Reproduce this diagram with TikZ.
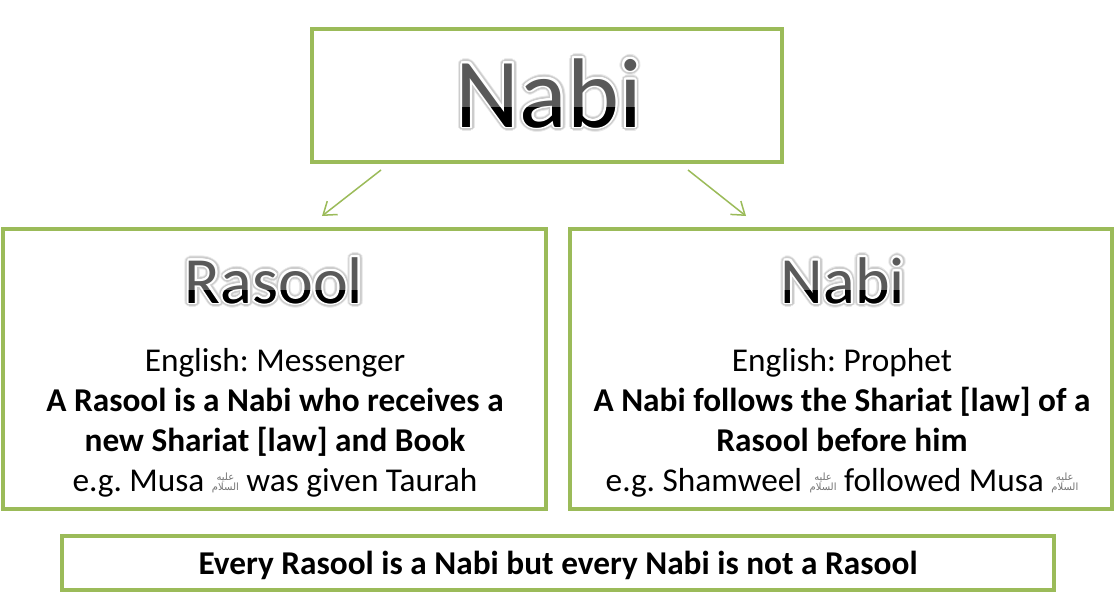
\documentclass[tikz,border=0pt]{standalone}
\usepackage{fontspec}
\setmainfont{Carlito}
\newfontfamily\arabicfont[Script=Arabic]{DejaVu Sans}
\TeXXeTstate=1
\frenchspacing
\usetikzlibrary{arrows.meta}
\definecolor{olivegreen}{RGB}{155,187,89}
\definecolor{topgray}{RGB}{89,89,89}
\newcommand\alayhi{\raisebox{1pt}{\textcolor{black!55}{\arabicfont\fontsize{10}{10}\selectfont\shortstack{\beginR عليه\endR\\[-2.5pt]\beginR السلام\endR}}}}
\newcommand\glossyword[6]{%
  \foreach \ang in {0,20,...,340}{\node[halotxt,font=\fontsize{#4}{#4}\selectfont] at ([shift={(\ang:4.6pt)}]#2,#3) {#6};}
  \foreach \ang in {0,20,...,340}{\node[glowtxt,font=\fontsize{#4}{#4}\selectfont] at ([shift={(\ang:3.4pt)}]#2,#3) {#6};}
  \foreach \ang in {0,20,...,340}{\node[rimtxt,font=\fontsize{#4}{#4}\selectfont] at ([shift={(\ang:2pt)}]#2,#3) {#6};}
  \node[titletxt,text=topgray,font=\fontsize{#4}{#4}\selectfont] (#1) at (#2,#3) {#6};
  \begin{scope}
    \clip (#2-200,#3-#5) rectangle (#2+200,#3+40);
    \node[titletxt,text=black,font=\fontsize{#4}{#4}\selectfont] (#1low) at (#2,#3) {#6};
  \end{scope}
}
\begin{document}
\begin{tikzpicture}[x=1pt,y=-1pt,
  box/.style={draw=olivegreen, line width=4pt, inner sep=0pt, outer sep=0pt, anchor=north west},
  link/.style={draw=olivegreen, line width=1.5pt, -{Straight Barb[length=12pt,width=17pt,line width=1.5pt]}},
  body/.style={anchor=base, inner sep=0pt, font=\fontsize{33.3}{40}\selectfont},
  bodyb/.style={anchor=base, inner sep=0pt, font=\fontsize{33.3}{40}\selectfont\bfseries},
  titletxt/.style={anchor=base, inner sep=0pt},
  halotxt/.style={anchor=base, inner sep=0pt, text=black!9},
  glowtxt/.style={anchor=base, inner sep=0pt, text=black!20},
  rimtxt/.style={anchor=base, inner sep=0pt, text=white},
]
\useasboundingbox (0,0) rectangle (1118,594);
\fill[white] (0,0) rectangle (1118,594);

% boxes
\node[box, minimum width=470pt, minimum height=133pt] (topbox) at (312,29) {};
\node[box, minimum width=543pt, minimum height=280pt] (leftbox) at (3,229) {};
\node[box, minimum width=542pt, minimum height=280pt] (rightbox) at (570,229) {};
\node[box, minimum width=992pt, minimum height=54pt] (bottombox) at (62,536) {};

% arrows
\coordinate (a1s) at (381,170);
\coordinate (a1e) at (322,216);
\coordinate (a2s) at (688,170);
\coordinate (a2e) at (746,216);
\draw[link] (a1s) -- (a1e);
\draw[link] (a2s) -- (a2e);

% titles
\glossyword{toptitle}{549}{127}{99}{20}{Nabi}
\glossyword{lefttitle}{274}{303}{66}{13}{Rasool}
\glossyword{righttitle}{843}{303}{66}{13}{Nabi}

% left text
\node[body]  (lenglish) at (275,371) {English: Messenger};
\node[bodyb] (ldefa) at (275,411) {A Rasool is a Nabi who receives a};
\node[bodyb] (ldefb) at (275,451) {new Shariat [law] and Book};
\node[body]  (lexample) at (275,491) {e.g. Musa \alayhi{} was given Taurah};

% right text
\node[body]  (renglish) at (842,371) {English: Prophet};
\node[bodyb] (rdefa) at (842,411) {A Nabi follows the Shariat [law] of a};
\node[bodyb] (rdefb) at (842,451) {Rasool before him};
\node[body]  (rexample) at (842,491) {e.g. Shamweel \alayhi{} followed Musa \alayhi};

% bottom
\node[bodyb] (summary) at (558,574) {Every Rasool is a Nabi but every Nabi is not a Rasool};
\end{tikzpicture}
\end{document}
